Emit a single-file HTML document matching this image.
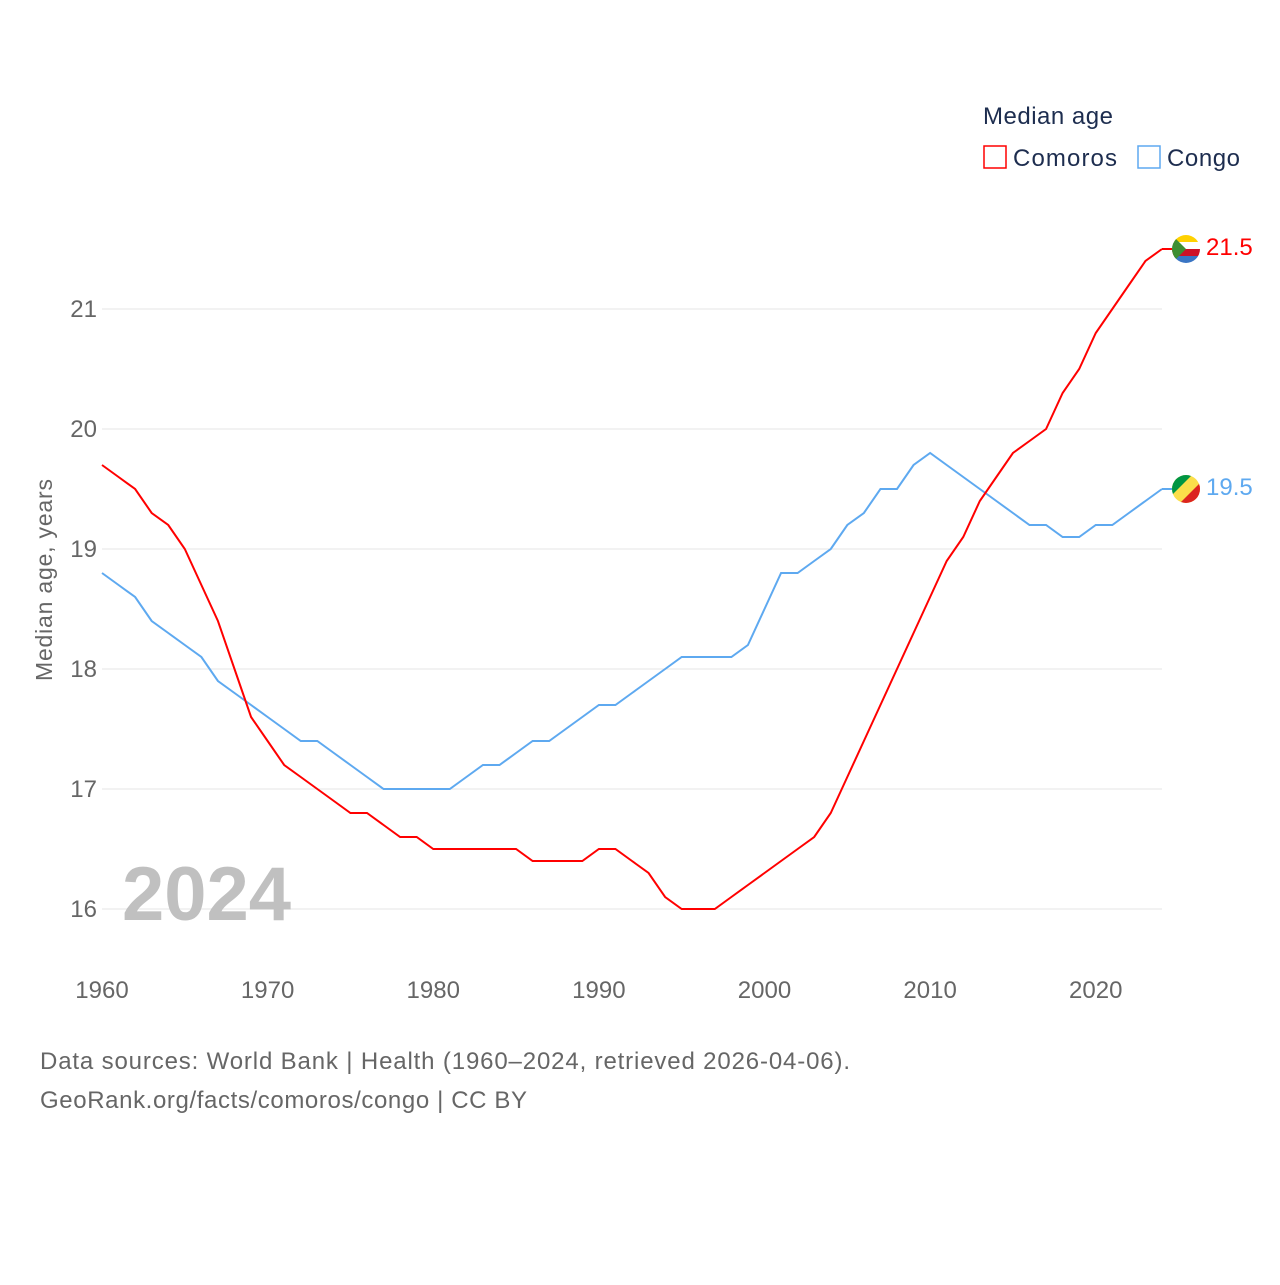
<!DOCTYPE html>
<html><head><meta charset="utf-8"><style>
body{margin:0;background:#fff;font-family:"Liberation Sans",sans-serif;}
svg text{font-family:"Liberation Sans",sans-serif;}
</style></head><body>
<svg width="1280" height="1280" viewBox="0 0 1280 1280">
<g id="grid"></g>
<g id="yticks"></g>
<g id="xticks"></g>
<text x="52" y="580" transform="rotate(-90 52 580)" text-anchor="middle" font-size="23" fill="#666" textLength="202">Median age, years</text>
<text x="122" y="920" font-size="76" font-weight="bold" fill="#c0c0c0">2024</text>
<g id="series"></g>
<g>
<text x="983" y="124" font-size="24" fill="#1d2d4f" textLength="130">Median age</text>
<g><rect x="984" y="146" width="22" height="22" fill="none" stroke="#ff0000" stroke-width="1.5"/><text x="1013" y="166" font-size="24" fill="#1d2d4f" textLength="104">Comoros</text></g>
<g><rect x="1138" y="146" width="22" height="22" fill="none" stroke="#5ea9f0" stroke-width="1.5"/><text x="1167" y="166" font-size="24" fill="#1d2d4f" textLength="73">Congo</text></g>
</g>
<text x="40" y="1069" font-size="24" fill="#666" textLength="810">Data sources: World Bank | Health (1960–2024, retrieved 2026-04-06).</text>
<text x="40" y="1108" font-size="24" fill="#666" textLength="487">GeoRank.org/facts/comoros/congo | CC BY</text>
</svg>
<script>
const years=[];for(let y=1960;y<=2024;y++)years.push(y);
const comoros=[19.7,19.6,19.5,19.3,19.2,19.0,18.7,18.4,18.0,17.6,17.4,17.2,17.1,17.0,16.9,16.8,16.8,16.7,16.6,16.6,16.5,16.5,16.5,16.5,16.5,16.5,16.4,16.4,16.4,16.4,16.5,16.5,16.4,16.3,16.1,16.0,16.0,16.0,16.1,16.2,16.3,16.4,16.5,16.6,16.8,17.1,17.4,17.7,18.0,18.3,18.6,18.9,19.1,19.4,19.6,19.8,19.9,20.0,20.3,20.5,20.8,21.0,21.2,21.4,21.5];
const congo=[18.8,18.7,18.6,18.4,18.3,18.2,18.1,17.9,17.8,17.7,17.6,17.5,17.4,17.4,17.3,17.2,17.1,17.0,17.0,17.0,17.0,17.0,17.1,17.2,17.2,17.3,17.4,17.4,17.5,17.6,17.7,17.7,17.8,17.9,18.0,18.1,18.1,18.1,18.1,18.2,18.5,18.8,18.8,18.9,19.0,19.2,19.3,19.5,19.5,19.7,19.8,19.7,19.6,19.5,19.4,19.3,19.2,19.2,19.1,19.1,19.2,19.2,19.3,19.4,19.5];
const yTicks=[16,17,18,19,20,21];
const xTicks=[1960,1970,1980,1990,2000,2010,2020];
const NS='http://www.w3.org/2000/svg';
const X=y=>102+(y-1960)*(1162-102)/64;
const Y=v=>909-(v-16)*120;
function mk(t,a,p){const e=document.createElementNS(NS,t);for(const k in a)e.setAttribute(k,a[k]);p.appendChild(e);return e;}
const grid=document.getElementById('grid'),yt=document.getElementById('yticks'),xt=document.getElementById('xticks'),ser=document.getElementById('series');
yTicks.forEach(v=>{
 const l=mk('line',{x1:102,x2:1162,y1:Y(v),y2:Y(v),stroke:'#e6e6e6','stroke-width':1},grid);
 
 
 const t=mk('text',{x:97,y:Y(v)+8,'text-anchor':'end','font-size':24,fill:'#666'},yt);t.textContent=v;
 
 
});
xTicks.forEach(v=>{
 const t=mk('text',{x:X(v),y:998,'text-anchor':'middle','font-size':24,fill:'#666'},xt);t.textContent=v;
 
 
});
function line(data,color,name){
 const p=mk('polyline',{points:data.map((v,i)=>X(years[i])+','+Y(v)).join(' '),fill:'none',stroke:color,'stroke-width':2},ser);
 
 
}
line(congo,'#5ea9f0','congo-line');
line(comoros,'#ff0000','comoros-line');
function endLabel(data,color,name,f1){
 const v=data[data.length-1],cy=Y(v),cx=1186;
 const g=mk('g',{},ser);
 
 
 mk('line',{x1:X(2024),x2:cx,y1:cy,y2:cy,stroke:color,'stroke-width':2},g);
 mk('clipPath',{id:'c'+name},g);
 mk('circle',{cx:cx,cy:cy,r:14},document.getElementById('c'+name));
 const fg=mk('g',{'clip-path':'url(#c'+name+')'},g);
 f1(fg,cx,cy);
 const t=mk('text',{x:1206,y:cy+6,'font-size':24,fill:color},g);t.textContent=v.toFixed(1);
 
 
}
endLabel(comoros,'#ff0000','comoros',(g,cx,cy)=>{
 mk('rect',{x:cx-14,y:cy-14,width:28,height:7,fill:'#ffd100'},g);
 mk('rect',{x:cx-14,y:cy-7,width:28,height:7,fill:'#fff'},g);
 mk('rect',{x:cx-14,y:cy,width:28,height:7,fill:'#ce1126'},g);
 mk('rect',{x:cx-14,y:cy+7,width:28,height:7,fill:'#3a75c4'},g);
 mk('polygon',{points:`${cx-14},${cy-14} ${cx},${cy} ${cx-14},${cy+14}`,fill:'#3d8e33'},g);
});
endLabel(congo,'#5ea9f0','congo',(g,cx,cy)=>{
 mk('rect',{x:cx-14,y:cy-14,width:28,height:28,fill:'#fbde4a'},g);
 mk('polygon',{points:`${cx-14},${cy-14} ${cx+6},${cy-14} ${cx-14},${cy+6}`,fill:'#009543'},g);
 mk('polygon',{points:`${cx+14},${cy+14} ${cx-6},${cy+14} ${cx+14},${cy-6}`,fill:'#dc241f'},g);
});
</script>
</body></html>
